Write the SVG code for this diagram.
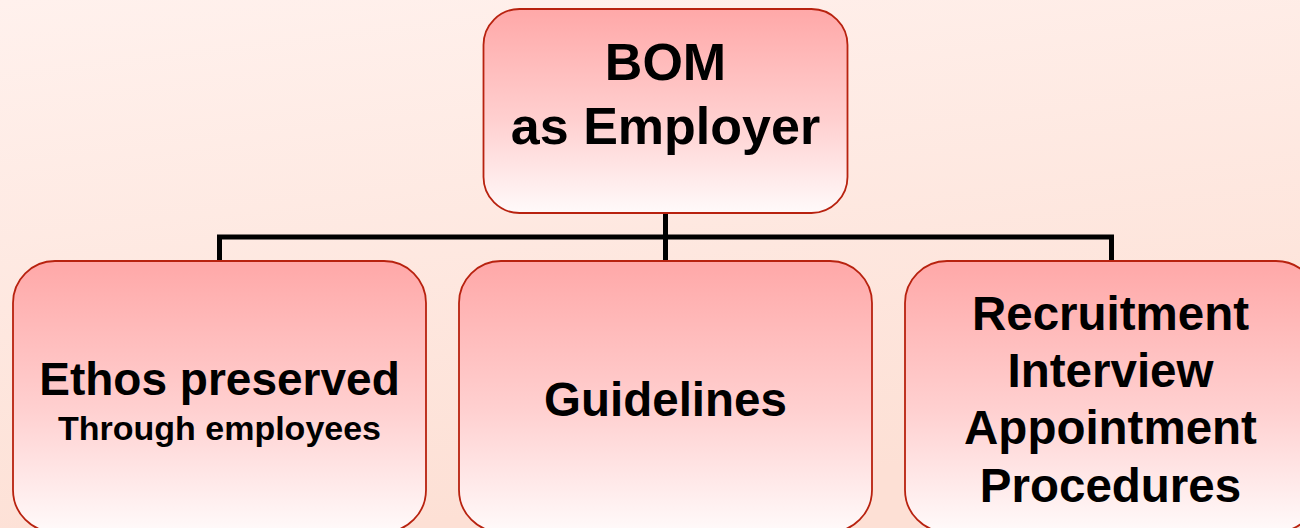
<svg xmlns="http://www.w3.org/2000/svg" width="1300" height="528" viewBox="0 0 1300 528">
  <defs>
    <linearGradient id="bg" x1="0" y1="0" x2="0.3" y2="1">
      <stop offset="0" stop-color="#fff1ed"/>
      <stop offset="1" stop-color="#fde0d5"/>
    </linearGradient>
    <linearGradient id="box" x1="0" y1="0" x2="0" y2="1">
      <stop offset="0" stop-color="#ffa8a8"/>
      <stop offset="0.55" stop-color="#ffd0d0"/>
      <stop offset="1" stop-color="#fffafa"/>
    </linearGradient>
    <style>
      .node { fill: url(#box); stroke: #b8220f; stroke-width: 1.8; }
      .t { font-family: "Liberation Sans", Arial, sans-serif; font-weight: bold; fill: #000; text-anchor: middle; }
      .conn { fill: none; stroke: #000; stroke-width: 5; stroke-linejoin: miter; }
    </style>
  </defs>
  <rect x="0" y="0" width="1300" height="528" fill="url(#bg)"/>

  <g id="connectors">
    <path class="conn" d="M665.5 212 V262"/>
    <path class="conn" d="M219.5 262 V237 H1111.5 V262"/>
  </g>

  <g id="node-bom">
    <rect class="node" x="483.5" y="9" width="364" height="204" rx="36" ry="36"/>
    <text class="t" x="665.5" y="80" font-size="52">BOM</text>
    <text class="t" x="665.5" y="144" font-size="52">as Employer</text>
  </g>

  <g id="node-ethos">
    <rect class="node" x="13" y="261" width="413" height="271" rx="42" ry="42"/>
    <text class="t" x="219.5" y="395" font-size="46">Ethos preserved</text>
    <text class="t" x="219.5" y="440" font-size="34">Through employees</text>
  </g>

  <g id="node-guidelines">
    <rect class="node" x="459" y="261" width="413" height="271" rx="42" ry="42"/>
    <text class="t" x="665.5" y="415.5" font-size="47.5">Guidelines</text>
  </g>

  <g id="node-recruitment">
    <rect class="node" x="905" y="261" width="413" height="271" rx="42" ry="42"/>
    <text class="t" x="1110.5" y="330" font-size="47.5">Recruitment</text>
    <text class="t" x="1110.5" y="387" font-size="47.5">Interview</text>
    <text class="t" x="1110.5" y="444" font-size="47.5">Appointment</text>
    <text class="t" x="1110.5" y="501.5" font-size="47.5">Procedures</text>
  </g>
</svg>
